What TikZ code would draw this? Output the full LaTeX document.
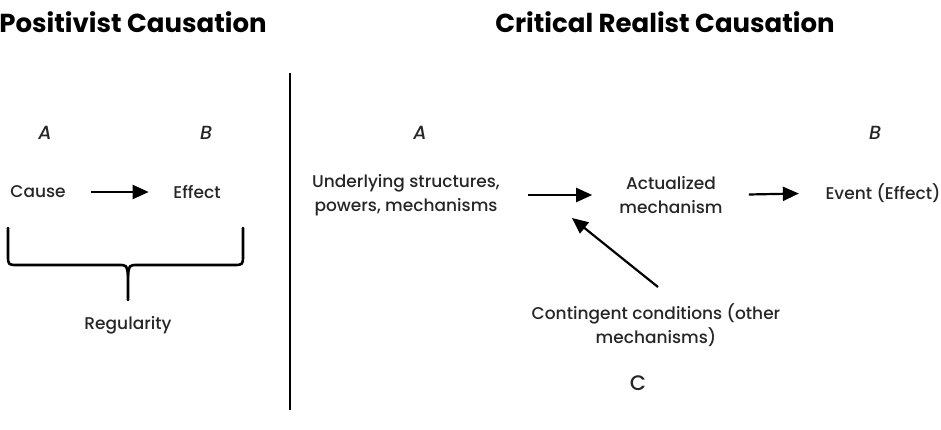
\documentclass[tikz,border=0pt]{standalone}
\usepackage{fontspec}
\setmainfont{Poppins Medium}[BoldFont={Poppins Bold},ItalicFont={Poppins Medium Italic}]
\usetikzlibrary{arrows.meta}
\begin{document}
\begin{tikzpicture}[x=1pt,y=-1pt,
  lbl/.style={inner sep=0pt, font=\fontsize{17}{24.5}\selectfont, align=center, text=black!85},
  ttl/.style={inner sep=0pt, font=\fontsize{26}{30}\selectfont\bfseries},
  letter/.style={inner sep=0pt, font=\fontsize{19}{22}\selectfont\itshape, text=black!85},
  arr/.style={line width=2.2pt, -{Triangle[length=16pt,width=14pt]}},
  brace/.style={line width=2.6pt, line cap=round, line join=round},
]
\useasboundingbox (0,0) rectangle (941,429);
% titles
\node[ttl] (t1) at (133,22) {Positivist Causation};
\node[ttl] (t2) at (665,22) {Critical Realist Causation};
% divider
\draw[line width=2.6pt] (290,73) -- (290,410);
% left
\node[letter] (a1) at (45,133) {A};
\node[letter] (b1) at (206,133) {B};
\node[lbl] (cause) at (38,192) {Cause};
\node[lbl] (effect) at (197,192) {Effect};
\draw[arr, shorten <=25.5pt, shorten >=24.5pt] (cause.east) -- (effect.west);
\draw[brace] (8,228) -- (8,255) .. controls (8,265) .. (18,265) -- (118,265) .. controls (127,265) .. (128,276) -- (128,300);
\draw[brace] (243,228) -- (243,255) .. controls (243,265) .. (233,265) -- (138,265) .. controls (129,265) .. (128,276);
\node[lbl] (reg) at (128,325) {Regularity};
% right
\node[letter] (a2) at (420,133) {A};
\node[letter] (b2) at (875,133) {B};
\node[lbl] (under) at (406,195) {Underlying structures,\\powers, mechanisms};
\node[lbl] (actual) at (671,195) {Actualized\\mechanism};
\node[lbl] (event) at (883,193) {Event (Effect)};
\node[lbl] (cont) at (656,325) {Contingent conditions (other\\mechanisms)};
\node[lbl, font=\fontsize{21}{24}\selectfont] (c) at (638,383) {C};
\draw[arr, shorten <=28pt, shorten >=27pt] (under.east) -- (actual.west);
\draw[arr, shorten <=26pt, shorten >=26.5pt] (actual.east) -- (event.west);
\coordinate (ctip) at (572,218);
\draw[arr] ([shift={(2pt,16pt)}]cont.north) -- (ctip);
\end{tikzpicture}
\end{document}
